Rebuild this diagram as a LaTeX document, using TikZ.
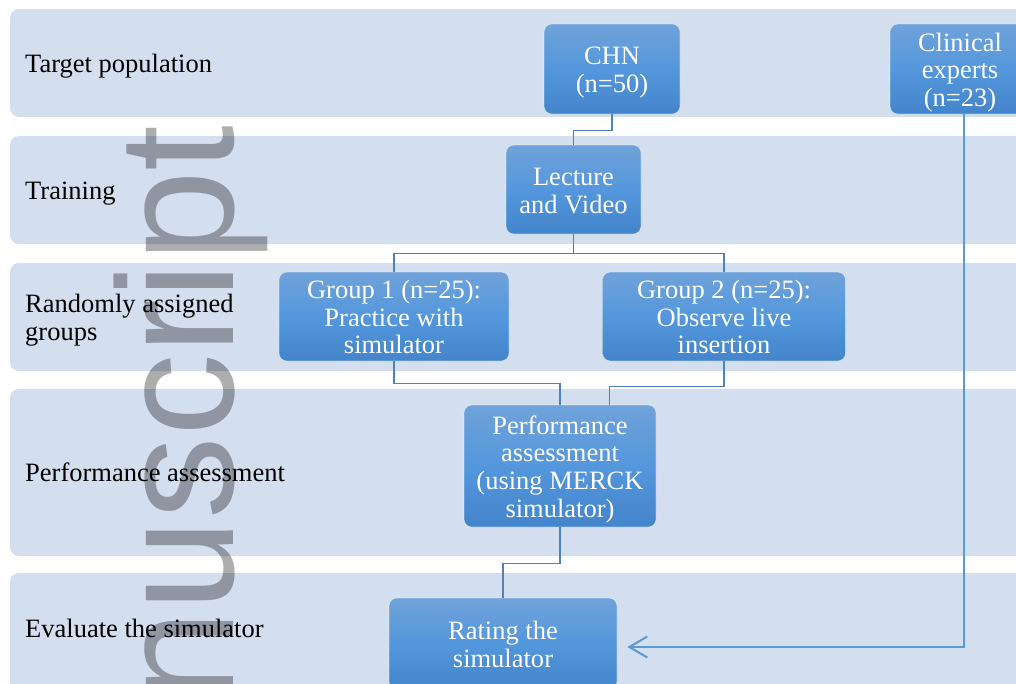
\documentclass[tikz,border=0pt]{standalone}
\usepackage{fontspec}
\setmainfont{Liberation Serif}
\newfontfamily\wmfont{Liberation Sans}
\usetikzlibrary{calc,arrows.meta}
\definecolor{band}{RGB}{211,222,238}
\definecolor{btop}{RGB}{112,162,218}
\definecolor{bmid}{RGB}{84,151,220}
\definecolor{bbot}{RGB}{67,132,202}
\definecolor{conn}{RGB}{79,129,189}
\definecolor{arrowc}{RGB}{91,155,213}
\newcommand\boxtop{\rule{0pt}{25.5pt}}
\newcommand\boxbot{\rule[-6pt]{0pt}{6pt}}
\tikzset{
  bandbox/.style={fill=band, rounded corners=9pt},
  flowbox/.style={rounded corners=8pt, top color=btop, bottom color=bbot, middle color=bmid,
     draw=white, draw opacity=0.45, line width=0.7pt, text=white, align=center,
     font=\fontsize{26.5}{27.6}\selectfont, inner sep=0pt},
  rowlabel/.style={anchor=base west, align=left, inner sep=0pt, font=\fontsize{26.5}{28}\selectfont},
  watermark/.style={rotate=90, anchor=base east, inner sep=0pt, text=black, opacity=0.32,
     font=\wmfont\fontsize{165}{165}\selectfont},
  link/.style={draw=conn, line width=1.3pt},
  feedback/.style={draw=arrowc, line width=2pt, -{Straight Barb[length=18pt,width=21pt,line width=2pt]}}
}
\begin{document}
\begin{tikzpicture}[x=1pt,y=-1pt]
\useasboundingbox (0,0) rectangle (1016,683);
\clip (0,0) rectangle (1016,683);
% bands
\fill[bandbox] (10,9) rectangle (1040,117);
\fill[bandbox] (10,136) rectangle (1040,244);
\fill[bandbox] (10,263) rectangle (1040,371);
\fill[bandbox] (10,389) rectangle (1040,556);
\fill[bandbox] (10,573) rectangle (1040,710);
% watermark
\node[watermark] (wm) at (233,125) {nuscript};
% row labels
\node[rowlabel] (l1) at (25,72) {Target population};
\node[rowlabel] (l2) at (25,199) {Training};
\node[rowlabel, anchor=north west] (l3) at (25,293.9) {Randomly assigned\\groups};
\node[rowlabel] (l4) at (25,481) {Performance assessment};
\node[rowlabel] (l5) at (25,637) {Evaluate the simulator};
% boxes
\node[flowbox, minimum width=136pt, minimum height=90pt] (chn) at (612,69) {\boxtop CHN\\(n=50)\boxbot};
\node[flowbox, minimum width=140pt, minimum height=90pt] (clin) at (960,69) {\boxtop Clinical\\experts\\(n=23)\boxbot};
\node[flowbox, minimum width=135pt, minimum height=89pt] (lec) at (573.5,189.5) {\boxtop Lecture\\and Video\boxbot};
\node[flowbox, minimum width=230pt, minimum height=89pt] (g1) at (394,316.5) {\boxtop Group 1 (n=25):\\Practice with\\simulator\boxbot};
\node[flowbox, minimum width=243pt, minimum height=89pt] (g2) at (724,316.5) {\boxtop Group 2 (n=25):\\Observe live\\insertion\boxbot};
\node[flowbox, minimum width=192pt, minimum height=122pt] (perf) at (560,466) {\boxtop Performance\\assessment\\(using MERCK\\simulator)\boxbot};
\node[flowbox, minimum width=228pt, minimum height=91pt] (rate) at (503,643.5) {\boxtop Rating the\\simulator\boxbot};
% connectors
\draw[link] (chn.south) -- ++(0,16) -| (lec.north);
\draw[link] (lec.south) -- ++(0,19) -| (g1.north);
\draw[link] (lec.south) -- ++(0,19) -| (g2.north);
\draw[link] (g1.south) -- ++(0,22) -| (perf.north);
\draw[link] (g2.south) -- ++(0,25) -| ($(perf.north)+(49.5,0)$);
\draw[link] (perf.south) -- ++(0,36) -| (rate.north);
\coordinate (fbend) at ($(rate.east)+(10,3.5)$);
\draw[feedback] ($(clin.south)+(3.5,0)$) |- (fbend);
\end{tikzpicture}
\end{document}
